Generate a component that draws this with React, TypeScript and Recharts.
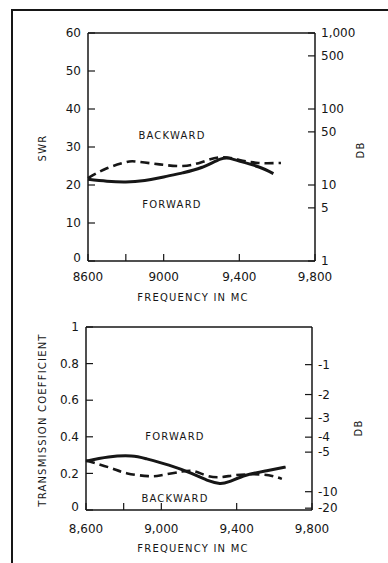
import React from "react";
import { Line, LineChart, ReferenceLine, XAxis, YAxis } from "recharts";

// SWR chart (top)
const swrForwardFreq = [8600, 8700, 8800, 8900, 9000, 9100, 9200, 9300, 9350, 9400, 9500, 9580];
const swrForward = [21.5, 21, 20.8, 21.2, 22.1, 23.2, 24.6, 26.8, 27, 26.3, 24.8, 23];
const swrBackwardFreq = [8600, 8700, 8800, 8850, 8950, 9000, 9100, 9200, 9300, 9400, 9500, 9620];
const swrBackward = [21.8, 24.4, 26, 26.2, 25.6, 25.3, 25, 26, 27.3, 26.6, 25.8, 25.8];
const swrTicks = [0, 10, 20, 30, 40, 50, 60];
const swrDbLabels = [1, 5, 10, 50, 100, 500, 1000];

// transmission chart (bottom)
const tcForwardFreq = [8600, 8720, 8840, 8920, 9040, 9160, 9250, 9310, 9360, 9450, 9560, 9660];
const tcForward = [0.267, 0.29, 0.295, 0.28, 0.245, 0.2, 0.16, 0.145, 0.155, 0.19, 0.215, 0.235];
const tcBackwardFreq = [8600, 8730, 8820, 8930, 9000, 9110, 9180, 9250, 9320, 9390, 9480, 9570, 9640];
const tcBackward = [0.27, 0.23, 0.2, 0.185, 0.19, 0.21, 0.21, 0.185, 0.18, 0.19, 0.195, 0.19, 0.17];
const tcTicks = [0, 0.2, 0.4, 0.6, 0.8, 1];
const tcTickLabels = ["0", "0.2", "0.4", "0.6", "0.8", "1"];
const tcDbLabels = [-1, -2, -3, -4, -5, -10, -20];

const freqTicks = [8600, 8800, 9000, 9400, 9800];
const topFreqLabels = ["8600", "", "9000", "9,400", "9,800"];
const bottomFreqLabels = ["8,600", "", "9,000", "9,400", "9,800"];

const FONT = "'DejaVu Sans', sans-serif";
const INK = "#161616";

const toPoints = (xs: number[], ys: number[]) => xs.map((f, i) => ({ f, v: ys[i] }));

// db axis positions (same scale as the left axis)
const swrDbTicks = swrDbLabels.map((r) => 20 * Math.log10(r));
const tcDbTicks = tcDbLabels.map((d) => Math.pow(10, d / 10));

const M = 6; // tick margin
const TL = 7; // tick length, drawn inward

const leftTick = (labels: string[], ticks: number[]) => (p: any) => {
  const i = ticks.findIndex((t) => Math.abs(t - p.payload.value) < 1e-9);
  const ax = p.x + M;
  return (
    <g>
      <line x1={ax} x2={ax + TL} y1={p.y} y2={p.y} stroke={INK} strokeWidth={1.2} />
      <text x={p.x - 1} y={i === 0 ? p.y - 3 : p.y} dy="0.35em" textAnchor="end" fontSize={12} fontFamily={FONT} fill={INK}>
        {labels[i]}
      </text>
    </g>
  );
};

const rightTick = (labels: string[], ticks: number[]) => (p: any) => {
  const i = ticks.findIndex((t) => Math.abs(t - p.payload.value) < 1e-9);
  const ax = p.x - M;
  return (
    <g>
      <line x1={ax - TL} x2={ax} y1={p.y} y2={p.y} stroke={INK} strokeWidth={1.2} />
      <text x={p.x} y={p.y} dy="0.35em" textAnchor="start" fontSize={12} fontFamily={FONT} fill={INK}>
        {labels[i]}
      </text>
    </g>
  );
};

const bottomTick = (labels: string[], drop: number) => (p: any) => {
  const i = freqTicks.indexOf(p.payload.value);
  const ay = p.y - M;
  return (
    <g>
      <line x1={p.x} x2={p.x} y1={ay} y2={ay - TL} stroke={INK} strokeWidth={1.2} />
      <text x={p.x} y={p.y + drop} dy="0.71em" textAnchor="middle" fontSize={12} fontFamily={FONT} fill={INK}>
        {labels[i]}
      </text>
    </g>
  );
};

const capText: React.CSSProperties = {
  position: "absolute",
  fontFamily: FONT,
  fontSize: 10,
  letterSpacing: 1.2,
  color: INK,
  whiteSpace: "nowrap",
};

function Label({ x, y, text, rotate }: { x: number; y: number; text: string; rotate?: boolean }) {
  return (
    <div
      style={{
        ...capText,
        left: x,
        top: y,
        transform: `translate(-50%, -50%)${rotate ? " rotate(-90deg)" : ""}`,
      }}
    >
      {text}
    </div>
  );
}

export default function App() {
  return (
    <div style={{ position: "absolute", left: 0, top: 0, width: 388, height: 563, background: "#fff", overflow: "hidden" }}>
      <div style={{ position: "absolute", left: 11, top: 9, width: 377, height: 554, borderLeft: `2px solid ${INK}`, borderTop: `2px solid ${INK}` }} />

      {/* SWR chart */}
      <div style={{ position: "absolute", left: 0, top: 0 }}>
        <LineChart width={388} height={300} margin={{ top: 33, right: 0, bottom: 0, left: 0 }}>
          <XAxis
            type="number"
            dataKey="f"
            domain={[8600, 9800]}
            ticks={freqTicks}
            interval={0}
            height={39}
            tickSize={0}
            tickMargin={M}
            stroke={INK}
            strokeWidth={1.5}
            tick={bottomTick(topFreqLabels, 5)}
          />
          <YAxis
            yAxisId="l"
            type="number"
            domain={[0, 60]}
            ticks={swrTicks}
            interval={0}
            width={88}
            tickSize={0}
            tickMargin={M}
            stroke={INK}
            strokeWidth={1.5}
            tick={leftTick(swrTicks.map(String), swrTicks)}
          />
          <YAxis
            yAxisId="r"
            orientation="right"
            type="number"
            domain={[0, 60]}
            allowDataOverflow
            ticks={swrDbTicks}
            interval={0}
            width={73}
            tickSize={0}
            tickMargin={M}
            stroke={INK}
            strokeWidth={1.5}
            tick={rightTick(swrDbLabels.map((r) => r.toLocaleString("en-US")), swrDbTicks)}
          />
          <ReferenceLine yAxisId="l" y={60} stroke={INK} strokeWidth={1.5} />
          <Line
            yAxisId="r"
            data={toPoints(swrBackwardFreq, swrBackward)}
            dataKey="v"
            type="natural"
            stroke={INK}
            strokeWidth={2.6}
            strokeDasharray="9 5"
            dot={false}
            isAnimationActive={false}
          />
          <Line
            yAxisId="l"
            data={toPoints(swrForwardFreq, swrForward)}
            dataKey="v"
            type="natural"
            stroke={INK}
            strokeWidth={3}
            dot={false}
            isAnimationActive={false}
          />
        </LineChart>
      </div>
      <Label x={42} y={148} text="SWR" rotate />
      <Label x={360} y={150} text="DB" rotate />
      <Label x={172} y={135} text="BACKWARD" />
      <Label x={172} y={204} text="FORWARD" />
      <Label x={193} y={297} text="FREQUENCY IN MC" />

      {/* transmission chart */}
      <div style={{ position: "absolute", left: 0, top: 300 }}>
        <LineChart width={388} height={263} margin={{ top: 27, right: 0, bottom: 0, left: 0 }}>
          <XAxis
            type="number"
            dataKey="f"
            domain={[8600, 9800]}
            ticks={freqTicks}
            interval={0}
            height={53}
            tickSize={0}
            tickMargin={M}
            stroke={INK}
            strokeWidth={1.5}
            tick={bottomTick(bottomFreqLabels, 8)}
          />
          <YAxis
            yAxisId="l"
            type="number"
            domain={[0, 1]}
            ticks={tcTicks}
            interval={0}
            width={86}
            tickSize={0}
            tickMargin={M}
            stroke={INK}
            strokeWidth={1.5}
            tick={leftTick(tcTickLabels, tcTicks)}
          />
          <YAxis
            yAxisId="r"
            orientation="right"
            type="number"
            domain={[0, 1]}
            allowDataOverflow
            ticks={tcDbTicks}
            interval={0}
            width={76}
            tickSize={0}
            tickMargin={M}
            stroke={INK}
            strokeWidth={1.5}
            tick={rightTick(tcDbLabels.map(String), tcDbTicks)}
          />
          <ReferenceLine yAxisId="l" y={1} stroke={INK} strokeWidth={1.5} />
          <Line
            yAxisId="r"
            data={toPoints(tcBackwardFreq, tcBackward)}
            dataKey="v"
            type="natural"
            stroke={INK}
            strokeWidth={2.6}
            strokeDasharray="9 5"
            dot={false}
            isAnimationActive={false}
          />
          <Line
            yAxisId="l"
            data={toPoints(tcForwardFreq, tcForward)}
            dataKey="v"
            type="natural"
            stroke={INK}
            strokeWidth={3}
            dot={false}
            isAnimationActive={false}
          />
        </LineChart>
      </div>
      <Label x={42} y={420} text="TRANSMISSION COEFFICIENT" rotate />
      <Label x={358} y={428} text="DB" rotate />
      <Label x={175} y={436} text="FORWARD" />
      <Label x={175} y={498} text="BACKWARD" />
      <Label x={193} y={548} text="FREQUENCY IN MC" />
    </div>
  );
}
